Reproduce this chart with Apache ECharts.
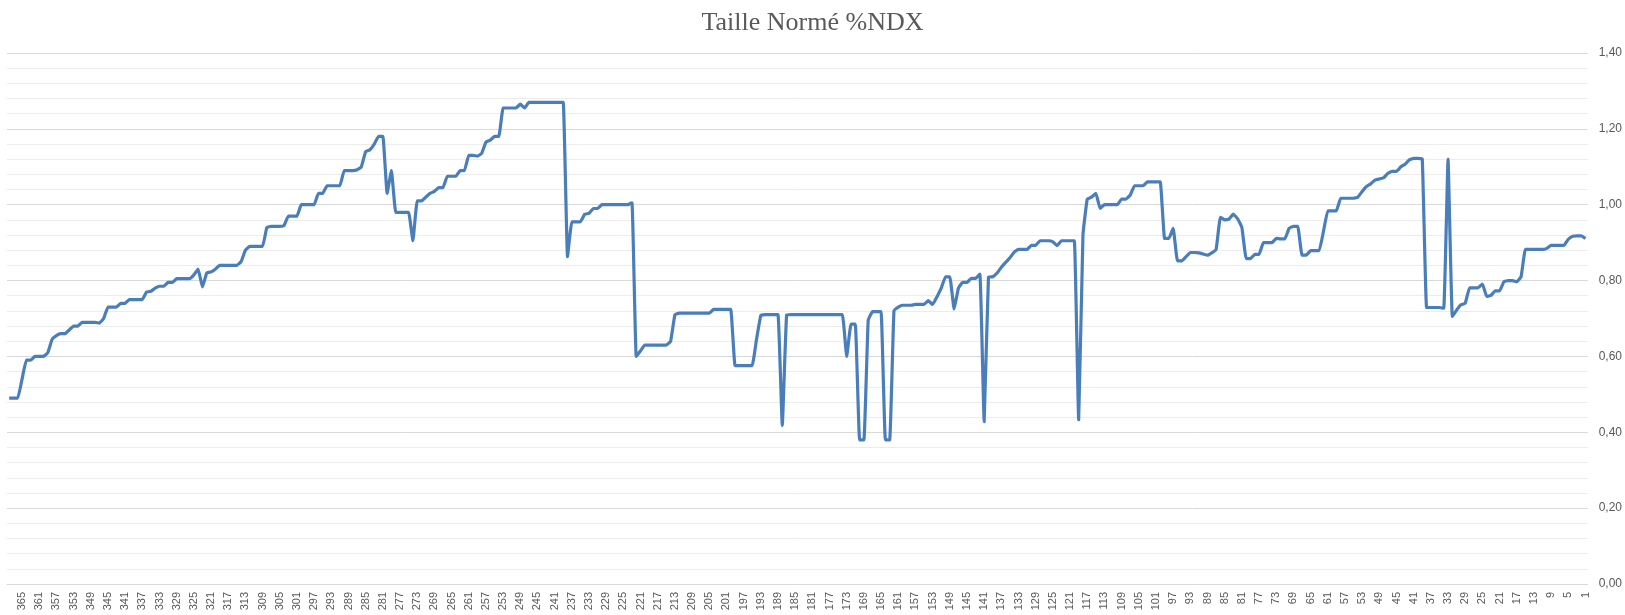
<!DOCTYPE html>
<html>
<head>
<meta charset="utf-8">
<title>Taille Normé %NDX</title>
<script src="https://cdn.jsdelivr.net/npm/echarts@6/dist/echarts.min.js"></script>
<style>
    html, body { margin: 0; padding: 0; background: #fff; }
    #line { width: 1625px; height: 615px; }
</style>
</head>
<body>
<div id="line"></div>
<script>
//---数据定义区----------------------------------
// valeurs lues de gauche (jour 368) a droite (jour 1)
var tailleNorme = [
    0.49, 0.49, 0.49, 0.54, 0.59, 0.59, 0.60, 0.60, 0.60, 0.61,
    0.645, 0.655, 0.66, 0.66, 0.67, 0.68, 0.68, 0.69, 0.69, 0.69,
    0.69, 0.688, 0.70, 0.73, 0.73, 0.73, 0.74, 0.74, 0.75, 0.75,
    0.75, 0.75, 0.77, 0.772, 0.78, 0.785, 0.785, 0.795, 0.795, 0.805,
    0.805, 0.805, 0.805, 0.815, 0.83, 0.783, 0.82, 0.823, 0.83, 0.84,
    0.84, 0.84, 0.84, 0.84, 0.85, 0.88, 0.89, 0.89, 0.89, 0.89,
    0.94, 0.943, 0.943, 0.943, 0.945, 0.97, 0.97, 0.97, 1.00, 1.00,
    1.00, 1.00, 1.03, 1.03, 1.05, 1.05, 1.05, 1.05, 1.09, 1.09,
    1.09, 1.092, 1.10, 1.14, 1.145, 1.16, 1.18, 1.18, 1.03, 1.09,
    0.98, 0.98, 0.98, 0.98, 0.905, 1.01, 1.01, 1.02, 1.03, 1.035,
    1.045, 1.045, 1.075, 1.075, 1.075, 1.09, 1.09, 1.13, 1.13, 1.128,
    1.135, 1.165, 1.17, 1.18, 1.18, 1.255, 1.255, 1.255, 1.255, 1.265,
    1.255, 1.27, 1.27, 1.27, 1.27, 1.27, 1.27, 1.27, 1.27, 1.27,
    0.863, 0.955, 0.955, 0.955, 0.975, 0.977, 0.99, 0.99, 1.00, 1.00,
    1.00, 1.00, 1.00, 1.00, 1.00, 1.005, 0.60, 0.615, 0.63, 0.63,
    0.63, 0.63, 0.63, 0.63, 0.64, 0.71, 0.714, 0.714, 0.714, 0.714,
    0.714, 0.714, 0.714, 0.714, 0.724, 0.724, 0.724, 0.724, 0.724, 0.576,
    0.576, 0.576, 0.576, 0.576, 0.645, 0.708, 0.71, 0.71, 0.71, 0.71,
    0.418, 0.709, 0.71, 0.71, 0.71, 0.71, 0.71, 0.71, 0.71, 0.71,
    0.71, 0.71, 0.71, 0.71, 0.71, 0.60, 0.685, 0.685, 0.38, 0.38,
    0.695, 0.718, 0.718, 0.718, 0.38, 0.38, 0.72, 0.73, 0.735, 0.735,
    0.735, 0.737, 0.737, 0.737, 0.747, 0.737, 0.757, 0.78, 0.81, 0.81,
    0.725, 0.78, 0.795, 0.795, 0.806, 0.806, 0.817, 0.428, 0.809, 0.81,
    0.82, 0.835, 0.848, 0.86, 0.875, 0.882, 0.882, 0.882, 0.893, 0.893,
    0.905, 0.905, 0.905, 0.902, 0.892, 0.905, 0.905, 0.905, 0.905, 0.433,
    0.92, 1.015, 1.02, 1.03, 0.99, 1.00, 1.00, 1.00, 1.00, 1.015,
    1.015, 1.025, 1.05, 1.05, 1.05, 1.06, 1.06, 1.06, 1.06, 0.911,
    0.911, 0.938, 0.852, 0.852, 0.863, 0.874, 0.874, 0.873, 0.87, 0.867,
    0.873, 0.882, 0.967, 0.96, 0.962, 0.975, 0.963, 0.94, 0.858, 0.858,
    0.869, 0.869, 0.90, 0.90, 0.90, 0.911, 0.91, 0.91, 0.938, 0.943,
    0.943, 0.867, 0.867, 0.879, 0.879, 0.879, 0.93, 0.984, 0.984, 0.984,
    1.017, 1.017, 1.017, 1.017, 1.02, 1.035, 1.048, 1.055, 1.065, 1.068,
    1.071, 1.083, 1.088, 1.088, 1.10, 1.107, 1.118, 1.122, 1.122, 1.12,
    0.729, 0.729, 0.729, 0.729, 0.727, 1.12, 0.705, 0.722, 0.736, 0.74,
    0.781, 0.781, 0.781, 0.791, 0.758, 0.761, 0.773, 0.773, 0.797, 0.80,
    0.80, 0.797, 0.81, 0.882, 0.882, 0.882, 0.882, 0.882, 0.885, 0.893,
    0.893, 0.893, 0.893, 0.909, 0.917, 0.918, 0.918, 0.911
];

// jours: 368 ... 1 (axe en ordre inverse)
var jours = [];
for (var j = tailleNorme.length; j >= 1; j--) {
    jours.push(String(j));
}

var yTicks = { min: 0, max: 1.4, interval: 0.2 };
//----------------------------------------------

//---构造函数----------------------------------
function init() {
    var _charts = echarts.init(document.getElementById('line'), null, { renderer: 'canvas' });
    _charts.setOption(makeOption());
}

var makeOption = function () {
    return {
        animation: false,
        backgroundColor: '#ffffff',
        title: {
            text: 'Taille Normé %NDX',
            left: 'center',
            top: 5,
            textStyle: {
                fontFamily: 'Liberation Serif',
                fontSize: 26,
                fontWeight: 'normal',
                color: '#595959'
            }
        },
        grid: { left: 7, right: 35, top: 53, bottom: 31, containLabel: false },
        xAxis: {
            type: 'category',
            data: jours,
            boundaryGap: true,
            axisLine: { show: true, lineStyle: { color: '#d9d9d9', width: 1 } },
            axisTick: { show: false },
            axisLabel: {
                rotate: 90,
                margin: 8,
                fontFamily: 'Liberation Sans',
                fontSize: 11,
                color: '#595959',
                interval: function (index, value) {
                    return Number(value) % 4 === 1;
                }
            },
            splitLine: { show: false }
        },
        yAxis: {
            type: 'value',
            position: 'right',
            min: yTicks.min,
            max: yTicks.max,
            interval: yTicks.interval,
            axisLine: { show: false },
            axisTick: { show: false },
            axisLabel: {
                margin: 11,
                fontFamily: 'Liberation Sans',
                fontSize: 12,
                color: '#595959',
                formatter: function (v) {
                    return v.toFixed(2).replace('.', ',');
                }
            },
            splitLine: { show: true, lineStyle: { color: '#d9d9d9', width: 1 } },
            minorTick: { show: false, splitNumber: 5 },
            minorSplitLine: { show: true, lineStyle: { color: '#ececec', width: 1 } }
        },
        series: [{
            name: 'Taille Normé %NDX',
            type: 'line',
            data: tailleNorme,
            showSymbol: false,
            smooth: 0.1,
            lineStyle: { color: '#4a7ebb', width: 3.2, join: 'round' },
            itemStyle: { color: '#4a7ebb' }
        }]
    };
};
//----------------------------------------------

init();
</script>
</body>
</html>
